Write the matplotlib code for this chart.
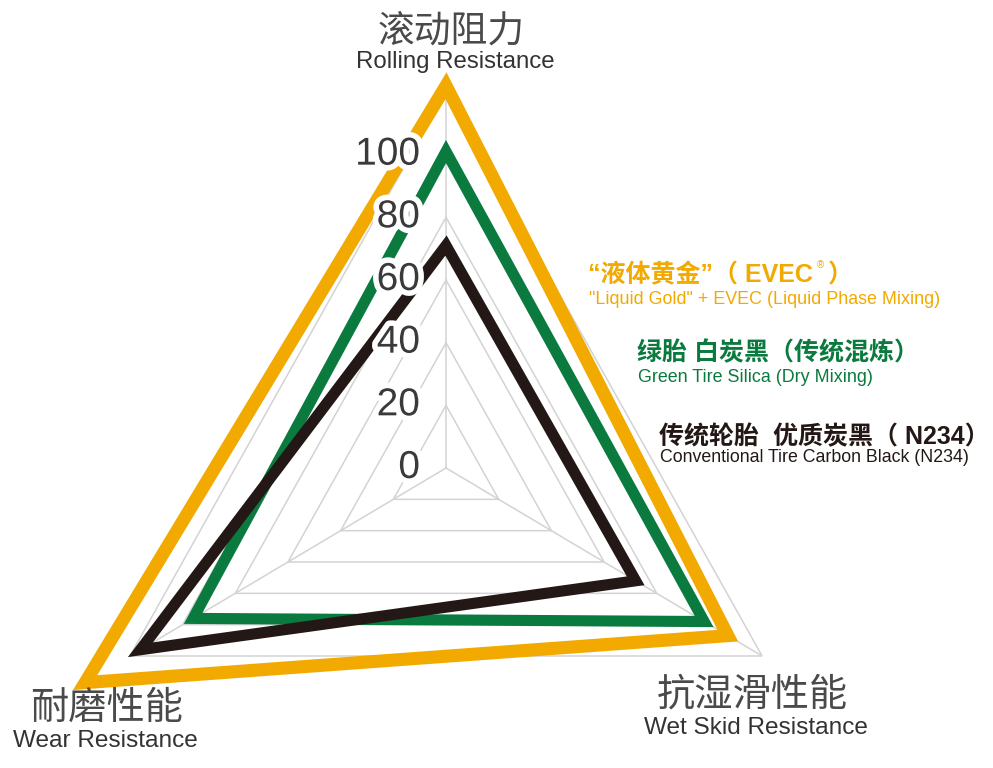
import numpy as np
import matplotlib
matplotlib.use("Agg")
import matplotlib.pyplot as plt
import matplotlib.patheffects as pe

# axes: rolling resistance (top), wet skid (lower right), wear (lower left)
axis_cn = ["滚动阻力", "抗湿滑性能", "耐磨性能"]
axis_en = ["Rolling Resistance", "Wet Skid Resistance", "Wear Resistance"]

evec_vals = [122, 107, 137]
silica_vals = [101, 98, 96]
carbon_vals = [71, 72, 116]

ring_levels = [20, 40, 60, 80, 100, 120]
tick_levels = [0, 20, 40, 60, 80, 100]

ORANGE = "#F2A900"
GREEN = "#0B7A3E"
BLACK = "#231815"
GRID = "#d3d3d3"
CN = ["Noto Sans CJK SC", "DejaVu Sans"]
MIX = ["Liberation Sans", "Noto Sans CJK SC", "DejaVu Sans"]
EN = ["Liberation Sans", "DejaVu Sans"]

W, H = 993, 768
fig = plt.figure(figsize=(W / 100, H / 100), dpi=100)

# the original is a little taller than wide, so let the polar box stretch
cx, cy, Rx, Ry = 446, 468, 365, 376
ax = fig.add_axes([(cx - Rx) / W, (H - cy - Ry) / H, 2 * Rx / W, 2 * Ry / H],
                  projection="polar")
ax.set_aspect("auto")
ax.set_theta_offset(np.pi / 2)
ax.set_theta_direction(-1)
ax.set_ylim(0, 120)
ax.grid(False)
ax.set_xticks([])
ax.set_yticks([])
ax.spines["polar"].set_visible(False)
ax.patch.set_visible(False)

theta = np.deg2rad([0, 120, 240])

# triangular grid
for lev in ring_levels:
    ax.plot(np.append(theta, theta[0]), [lev] * 4, color=GRID, lw=1.1, zorder=1)
for t in theta:
    ax.plot([t, t], [0, 120], color=GRID, lw=1.1, zorder=1)

# series
for vals, col, lw in [(evec_vals, ORANGE, 9.4), (silica_vals, GREEN, 8.0),
                      (carbon_vals, BLACK, 8.0)]:
    ax.fill(theta, vals, facecolor="none", edgecolor=col, lw=lw,
            joinstyle="miter", clip_on=False, zorder=3)

# radial tick labels
for lev in tick_levels:
    ax.annotate(str(lev), xy=(0, lev), xytext=(-26, 0), textcoords="offset pixels",
                ha="right", va="center", fontsize=28, color="#3a3a3a",
                family=EN, zorder=5,
                path_effects=[pe.withStroke(linewidth=8, foreground="white")])


def ftext(x, y, s, **kw):
    return fig.text(x / W, 1 - y / H, s, **kw)


# axis labels
ftext(451, 31, axis_cn[0], ha="center", va="center", fontsize=26.5,
      family=CN, weight="light", color="#4a4a4a")
ftext(455, 62, axis_en[0], ha="center", va="center", fontsize=17.3,
      family=EN, color="#333333")
ftext(752, 695, axis_cn[1], ha="center", va="center", fontsize=27.5,
      family=CN, weight="light", color="#4a4a4a")
ftext(756, 728, axis_en[1], ha="center", va="center", fontsize=17.6,
      family=EN, color="#333333")
ftext(107, 708, axis_cn[2], ha="center", va="center", fontsize=27.5,
      family=CN, weight="light", color="#4a4a4a")
ftext(105, 741, axis_en[2], ha="center", va="center", fontsize=17.6,
      family=EN, color="#333333")

# series labels
t1 = ftext(588, 275, "“液体黄金”（ EVEC", ha="left", va="center", fontsize=18,
           family=MIX, weight="bold", color=ORANGE)
ax.annotate("®", xy=(1, 0.9), xycoords=t1, xytext=(4, 0),
            textcoords="offset pixels", ha="left", va="center", fontsize=7,
            family=EN, color=ORANGE, annotation_clip=False)
ax.annotate("）", xy=(1, 0.5), xycoords=t1, xytext=(15, 0),
            textcoords="offset pixels", ha="left", va="center", fontsize=18,
            family=CN, weight="bold", color=ORANGE, annotation_clip=False)
ftext(589, 300, "\"Liquid Gold\" + EVEC (Liquid Phase Mixing)", ha="left",
      va="center", fontsize=12.9, family=EN, color=ORANGE)

ftext(637, 353, "绿胎 白炭黑（传统混炼）", ha="left", va="center", fontsize=18,
      family=MIX, weight="bold", color=GREEN)
ftext(638, 378, "Green Tire Silica (Dry Mixing)", ha="left", va="center",
      fontsize=12.9, family=EN, color=GREEN)

ftext(659, 437, "传统轮胎  优质炭黑（ N234）", ha="left", va="center", fontsize=18,
      family=MIX, weight="bold", color=BLACK)
ftext(660, 458, "Conventional Tire Carbon Black (N234)", ha="left", va="center",
      fontsize=12.8, family=EN, color=BLACK)

fig.savefig("out.png", dpi=100)
